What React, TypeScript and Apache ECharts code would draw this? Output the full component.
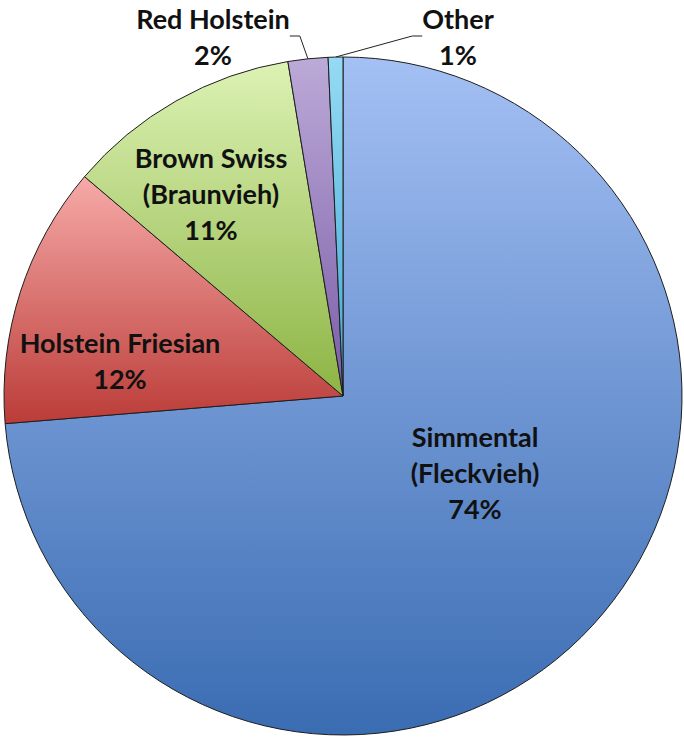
import React, { useEffect, useRef } from "react";
import * as echarts from "echarts";

const breeds = [
  "Simmental\n(Fleckvieh)",
  "Holstein Friesian",
  "Brown Swiss\n(Braunvieh)",
  "Red Holstein",
  "Other",
];
const shares = [73.7, 12.5, 11.2, 1.9, 0.7];
const topColors = ["#a4c0f4", "#f6aaa8", "#dcf2b4", "#bcaad8", "#96daf4"];
const bottomColors = ["#3a6cb2", "#bb3c38", "#8db444", "#7a5ca6", "#3fa8d4"];
// label centres (layout only)
const labelPos = [
  [475, 472],
  [120, 360],
  [211, 193],
  [213, 36],
  [458, 36],
];

export default function App() {
  const ref = useRef<HTMLDivElement>(null);
  useEffect(() => {
    if (!ref.current) return;
    const chart = echarts.init(ref.current, undefined, { renderer: "svg" });
    const data = breeds.map((name, i) => ({
      name,
      value: shares[i],
      itemStyle: {
        color: {
          type: "linear",
          x: 0,
          y: 0,
          x2: 0,
          y2: 1,
          colorStops: [
            { offset: 0, color: topColors[i] },
            { offset: 1, color: bottomColors[i] },
          ],
        },
      },
      label: { position: i < 3 ? "inside" : "outside" },
      labelLine: { show: i >= 3 },
    }));
    chart.setOption({
      animation: false,
      backgroundColor: "#ffffff",
      series: [
        {
          type: "pie",
          center: [343, 396],
          radius: 339,
          startAngle: 90,
          clockwise: true,
          percentPrecision: 0,
          avoidLabelOverlap: false,
          data,
          itemStyle: { borderColor: "#1e1e1e", borderWidth: 1 },
          label: {
            show: true,
            formatter: "{b}\n{d}%",
            fontFamily: "Lato",
            fontWeight: "bold",
            fontSize: 27,
            lineHeight: 36,
            color: "#111111",
            align: "center",
          },
          labelLine: {
            show: true,
            length: 10,
            length2: 10,
            lineStyle: { color: "#222", width: 1 },
          },
          labelLayout: (p: any) => ({
            x: labelPos[p.dataIndex][0],
            y: labelPos[p.dataIndex][1],
            align: "center",
            verticalAlign: "middle",
          }),
        },
      ],
    });
    return () => chart.dispose();
  }, []);
  return (
    <div
      ref={ref}
      style={{ position: "fixed", left: 0, top: 0, width: 684, height: 737 }}
    />
  );
}
